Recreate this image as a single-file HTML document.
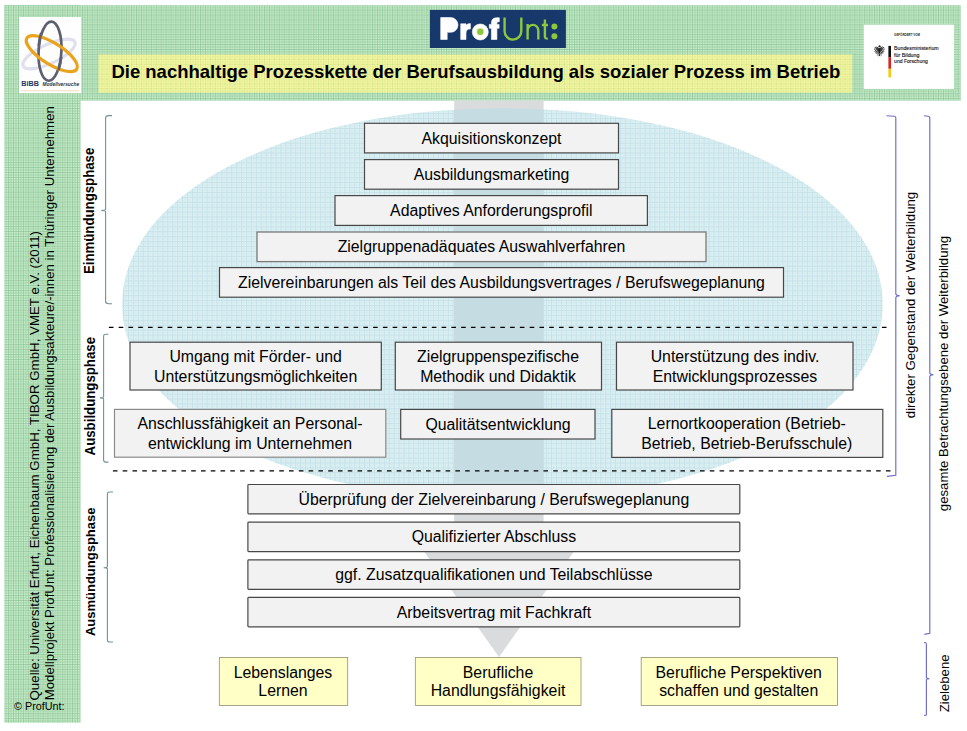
<!DOCTYPE html>
<html><head><meta charset="utf-8"><title>ProfUnt Prozesskette</title>
<style>
html,body{margin:0;padding:0;background:#fff;}
body{width:967px;height:731px;overflow:hidden;font-family:"Liberation Sans",sans-serif;}
svg{display:block;}
text{font-family:"Liberation Sans",sans-serif;fill:#000;}
.b{font-size:15.84px;text-anchor:middle;}
.ph{font-size:13.25px;font-weight:bold;text-anchor:middle;}
.rt{font-size:13.2px;text-anchor:middle;}
.box{fill:#f2f2f2;stroke:#484848;stroke-width:1.2;}
.boxl{fill:#f2f2f2;stroke:#8a8a8a;stroke-width:1.2;}
.boxm{fill:#f2f2f2;stroke:#7a7a7a;stroke-width:1.3;}
.ybox{fill:#ffffc6;stroke:#8f8f70;stroke-width:0.8;}
.lb{fill:none;stroke:#6f9296;stroke-width:1.1;}
.rb{fill:none;stroke:#6c6cc4;stroke-width:1.15;}
</style></head><body>
<svg width="967" height="731" viewBox="0 0 967 731">
<defs>
<pattern id="gg" x="3.2" y="4.7" width="4.92" height="4.92" patternUnits="userSpaceOnUse">
<rect width="4.92" height="4.92" fill="#caf2ce"/>
<rect x="2.46" width="0.95" height="4.92" fill="#a6d6ad"/>
<rect y="2.46" width="4.92" height="0.95" fill="#a6d6ad"/>
<rect width="1.0" height="4.92" fill="#9fcfa7"/>
<rect width="4.92" height="1.0" fill="#9fcfa7"/>
<rect width="1.0" height="1.0" fill="#90c299"/>
<rect x="2.46" y="2.46" width="0.95" height="0.95" fill="#96c79e"/>
<rect x="2.46" width="0.95" height="1.0" fill="#96c79e"/>
<rect y="2.46" width="1.0" height="0.95" fill="#96c79e"/>
</pattern>
<pattern id="yg" x="3.2" y="4.7" width="4.92" height="4.92" patternUnits="userSpaceOnUse">
<rect width="4.92" height="4.92" fill="#fcfca5"/>
<rect x="2.46" width="0.95" height="4.92" fill="#e4ee97"/>
<rect y="2.46" width="4.92" height="0.95" fill="#e4ee97"/>
<rect width="1.0" height="4.92" fill="#dde991"/>
<rect width="4.92" height="1.0" fill="#dde991"/>
<rect width="1.0" height="1.0" fill="#d0e088"/>
<rect x="2.46" y="2.46" width="0.95" height="0.95" fill="#d6e48c"/>
</pattern>
<pattern id="bg" x="0" y="0" width="4.92" height="4.92" patternUnits="userSpaceOnUse">
<rect width="4.92" height="4.92" fill="#e0f4f6"/>
<rect x="2.46" width="0.85" height="4.92" fill="#d1e9ee"/>
<rect y="2.46" width="4.92" height="0.85" fill="#d1e9ee"/>
<rect width="1.0" height="4.92" fill="#c6e1e8"/>
<rect width="4.92" height="1.0" fill="#c6e1e8"/>
</pattern>
<clipPath id="ec"><path d="M882.6 304.1L882.5 309.6L882.1 315.0L881.5 320.2L880.6 325.5L879.4 330.7L878.0 335.9L876.4 341.0L874.5 346.1L872.3 351.1L869.9 356.1L867.2 361.1L864.3 366.0L861.2 370.9L857.8 375.7L854.2 380.5L850.3 385.2L846.3 389.8L841.9 394.4L837.4 398.9L832.6 403.3L827.6 407.7L822.4 412.0L816.9 416.2L811.3 420.4L805.4 424.5L799.3 428.4L793.1 432.3L786.6 436.2L779.9 439.9L773.1 443.5L766.0 447.0L758.8 450.5L751.4 453.8L743.9 457.0L736.1 460.1L728.2 463.2L720.2 466.1L712.0 468.9L703.6 471.6L695.1 474.1L686.5 476.6L677.7 479.0L668.8 481.2L659.8 483.3L650.7 485.3L641.4 487.1L632.1 488.9L622.6 490.5L613.1 492.0L603.4 493.4L593.7 494.6L583.9 495.7L574.0 496.7L564.1 497.5L554.0 498.3L543.9 498.8L533.8 499.3L523.5 499.6L513.1 499.8L502.4 499.9L491.7 499.8L481.3 499.6L471.0 499.3L460.9 498.8L450.8 498.3L440.7 497.5L430.8 496.7L420.9 495.7L411.1 494.6L401.4 493.4L391.7 492.0L382.2 490.5L372.7 488.9L363.4 487.1L354.1 485.3L345.0 483.3L336.0 481.2L327.1 479.0L318.3 476.6L309.7 474.1L301.2 471.6L292.8 468.9L284.6 466.1L276.6 463.2L268.7 460.1L260.9 457.0L253.4 453.8L246.0 450.5L238.8 447.0L231.7 443.5L224.9 439.9L218.2 436.2L211.7 432.3L205.5 428.4L199.4 424.5L193.5 420.4L187.9 416.2L182.4 412.0L177.2 407.7L172.2 403.3L167.4 398.9L162.9 394.4L158.5 389.8L154.5 385.2L150.6 380.5L147.0 375.7L143.6 370.9L140.5 366.0L137.6 361.1L134.9 356.1L132.5 351.1L130.3 346.1L128.4 341.0L126.8 335.9L125.4 330.7L124.2 325.5L123.3 320.2L122.7 315.0L122.3 309.6L122.2 304.1L122.3 298.6L122.7 293.2L123.3 288.0L124.2 282.7L125.4 277.5L126.8 272.3L128.4 267.2L130.3 262.1L132.5 257.1L134.9 252.1L137.6 247.1L140.5 242.2L143.6 237.3L147.0 232.5L150.6 227.7L154.5 223.0L158.5 218.4L162.9 213.8L167.4 209.3L172.2 204.9L177.2 200.5L182.4 196.2L187.9 192.0L193.5 187.8L199.4 183.7L205.5 179.8L211.7 175.9L218.2 172.0L224.9 168.3L231.7 164.7L238.8 161.2L246.0 157.7L253.4 154.4L260.9 151.2L268.7 148.1L276.6 145.0L284.6 142.1L292.8 139.3L301.2 136.6L309.7 134.1L318.3 131.6L327.1 129.2L336.0 127.0L345.0 124.9L354.1 122.9L363.4 121.1L372.7 119.3L382.2 117.7L391.7 116.2L401.4 114.8L411.1 113.6L420.9 112.5L430.8 111.5L440.7 110.7L450.8 109.9L460.9 109.4L471.0 108.9L481.3 108.6L491.7 108.4L502.4 108.3L513.1 108.4L523.5 108.6L533.8 108.9L543.9 109.4L554.0 109.9L564.1 110.7L574.0 111.5L583.9 112.5L593.7 113.6L603.4 114.8L613.1 116.2L622.6 117.7L632.1 119.3L641.4 121.1L650.7 122.9L659.8 124.9L668.8 127.0L677.7 129.2L686.5 131.6L695.1 134.1L703.6 136.6L712.0 139.3L720.2 142.1L728.2 145.0L736.1 148.1L743.9 151.2L751.4 154.4L758.8 157.7L766.0 161.2L773.1 164.7L779.9 168.3L786.6 172.0L793.1 175.9L799.3 179.8L805.4 183.7L811.3 187.8L816.9 192.0L822.4 196.2L827.6 200.5L832.6 204.9L837.4 209.3L841.9 213.8L846.3 218.4L850.3 223.0L854.2 227.7L857.8 232.5L861.2 237.3L864.3 242.2L867.2 247.1L869.9 252.1L872.3 257.1L874.5 262.1L876.4 267.2L878.0 272.3L879.4 277.5L880.6 282.7L881.5 288.0L882.1 293.2L882.5 298.6Z"/></clipPath>
</defs>
<rect width="967" height="731" fill="#fff"/>
<!-- green frame -->
<rect x="4.3" y="5.2" width="956.5" height="95.5" fill="url(#gg)"/>
<rect x="4.3" y="5.2" width="76.3" height="717.6" fill="url(#gg)"/>
<!-- ellipse -->
<path d="M882.6 304.1L882.5 309.6L882.1 315.0L881.5 320.2L880.6 325.5L879.4 330.7L878.0 335.9L876.4 341.0L874.5 346.1L872.3 351.1L869.9 356.1L867.2 361.1L864.3 366.0L861.2 370.9L857.8 375.7L854.2 380.5L850.3 385.2L846.3 389.8L841.9 394.4L837.4 398.9L832.6 403.3L827.6 407.7L822.4 412.0L816.9 416.2L811.3 420.4L805.4 424.5L799.3 428.4L793.1 432.3L786.6 436.2L779.9 439.9L773.1 443.5L766.0 447.0L758.8 450.5L751.4 453.8L743.9 457.0L736.1 460.1L728.2 463.2L720.2 466.1L712.0 468.9L703.6 471.6L695.1 474.1L686.5 476.6L677.7 479.0L668.8 481.2L659.8 483.3L650.7 485.3L641.4 487.1L632.1 488.9L622.6 490.5L613.1 492.0L603.4 493.4L593.7 494.6L583.9 495.7L574.0 496.7L564.1 497.5L554.0 498.3L543.9 498.8L533.8 499.3L523.5 499.6L513.1 499.8L502.4 499.9L491.7 499.8L481.3 499.6L471.0 499.3L460.9 498.8L450.8 498.3L440.7 497.5L430.8 496.7L420.9 495.7L411.1 494.6L401.4 493.4L391.7 492.0L382.2 490.5L372.7 488.9L363.4 487.1L354.1 485.3L345.0 483.3L336.0 481.2L327.1 479.0L318.3 476.6L309.7 474.1L301.2 471.6L292.8 468.9L284.6 466.1L276.6 463.2L268.7 460.1L260.9 457.0L253.4 453.8L246.0 450.5L238.8 447.0L231.7 443.5L224.9 439.9L218.2 436.2L211.7 432.3L205.5 428.4L199.4 424.5L193.5 420.4L187.9 416.2L182.4 412.0L177.2 407.7L172.2 403.3L167.4 398.9L162.9 394.4L158.5 389.8L154.5 385.2L150.6 380.5L147.0 375.7L143.6 370.9L140.5 366.0L137.6 361.1L134.9 356.1L132.5 351.1L130.3 346.1L128.4 341.0L126.8 335.9L125.4 330.7L124.2 325.5L123.3 320.2L122.7 315.0L122.3 309.6L122.2 304.1L122.3 298.6L122.7 293.2L123.3 288.0L124.2 282.7L125.4 277.5L126.8 272.3L128.4 267.2L130.3 262.1L132.5 257.1L134.9 252.1L137.6 247.1L140.5 242.2L143.6 237.3L147.0 232.5L150.6 227.7L154.5 223.0L158.5 218.4L162.9 213.8L167.4 209.3L172.2 204.9L177.2 200.5L182.4 196.2L187.9 192.0L193.5 187.8L199.4 183.7L205.5 179.8L211.7 175.9L218.2 172.0L224.9 168.3L231.7 164.7L238.8 161.2L246.0 157.7L253.4 154.4L260.9 151.2L268.7 148.1L276.6 145.0L284.6 142.1L292.8 139.3L301.2 136.6L309.7 134.1L318.3 131.6L327.1 129.2L336.0 127.0L345.0 124.9L354.1 122.9L363.4 121.1L372.7 119.3L382.2 117.7L391.7 116.2L401.4 114.8L411.1 113.6L420.9 112.5L430.8 111.5L440.7 110.7L450.8 109.9L460.9 109.4L471.0 108.9L481.3 108.6L491.7 108.4L502.4 108.3L513.1 108.4L523.5 108.6L533.8 108.9L543.9 109.4L554.0 109.9L564.1 110.7L574.0 111.5L583.9 112.5L593.7 113.6L603.4 114.8L613.1 116.2L622.6 117.7L632.1 119.3L641.4 121.1L650.7 122.9L659.8 124.9L668.8 127.0L677.7 129.2L686.5 131.6L695.1 134.1L703.6 136.6L712.0 139.3L720.2 142.1L728.2 145.0L736.1 148.1L743.9 151.2L751.4 154.4L758.8 157.7L766.0 161.2L773.1 164.7L779.9 168.3L786.6 172.0L793.1 175.9L799.3 179.8L805.4 183.7L811.3 187.8L816.9 192.0L822.4 196.2L827.6 200.5L832.6 204.9L837.4 209.3L841.9 213.8L846.3 218.4L850.3 223.0L854.2 227.7L857.8 232.5L861.2 237.3L864.3 242.2L867.2 247.1L869.9 252.1L872.3 257.1L874.5 262.1L876.4 267.2L878.0 272.3L879.4 277.5L880.6 282.7L881.5 288.0L882.1 293.2L882.5 298.6Z" fill="url(#bg)"/>
<!-- arrow -->
<g id="arrow">
<path d="M454.2 100.4H543.6V550H575L499 657L423 550H454.2Z" fill="#dadbdc"/>
<path d="M454.2 100.4H543.6V550H575L499 657L423 550H454.2Z" fill="#c5dce2" clip-path="url(#ec)"/>
</g>

<!-- BIBB logo -->
<g id="bibb">
<rect x="19" y="17" width="62.2" height="76.2" fill="#fefefe"/>
<ellipse cx="49" cy="54" rx="28.5" ry="9.5" transform="rotate(-25 49 54)" fill="none" stroke="#e0dfee" stroke-width="3.2"/>
<ellipse cx="50" cy="51.2" rx="11.4" ry="29.6" transform="rotate(3 50 51.2)" fill="none" stroke="#5d6070" stroke-width="2.7"/>
<ellipse cx="51.8" cy="53.6" rx="29.4" ry="10.6" transform="rotate(32 51.8 53.6)" fill="none" stroke="#e9a31d" stroke-width="3.2"/>
<path d="M38.7 46 A11.4 29.6 3 0 1 41.2 33" fill="none" stroke="#5d6070" stroke-width="2.7"/><path d="M61.2 57 A11.4 29.6 3 0 1 58.5 70" fill="none" stroke="#5d6070" stroke-width="2.7"/>
<text x="21.3" y="85.8" style="font-size:6.4px;font-weight:bold;fill:#1f3565;" textLength="17.6" lengthAdjust="spacingAndGlyphs">BiBB</text>
<text x="42.6" y="85.6" style="font-size:4.9px;font-weight:bold;font-style:italic;fill:#333;" textLength="36.5" lengthAdjust="spacingAndGlyphs">Modellversuche</text>
<rect x="21" y="90" width="58" height="1.2" fill="#f3dcc0" opacity="0.8"/>
</g>
<!-- ProfUnt logo -->
<g id="pu">
<rect x="429.9" y="9.9" width="136" height="38.1" fill="#17386b"/>
<g fill="#fff" stroke="#fff" stroke-width="0.6" stroke-linejoin="round">
<path d="M440.7 17.5H450.6A7.4 7.4 0 0 1 450.6 32.3H447.2V39.5H440.7Z"/>
<path d="M460.7 23.8H466V25.2Q467.8 23.4 470.4 23.6V29Q466 28.6 466 33.2V39.5H460.7Z"/>
<circle cx="480.3" cy="32" r="8"/>
<path d="M491.4 39.5V28.3H489.3V24.4H491.4V23Q491.4 17.7 497 17.7H499.3V21.8H498.2Q496.9 21.8 496.9 23.2V24.4H499.1V28.3H496.9V39.5Z"/>
</g>
<circle cx="480.3" cy="31.8" r="4.1" fill="#f1f6cf"/>
<circle cx="480.3" cy="31.8" r="3.2" fill="#8dc63f"/>
<g fill="none" stroke="#8dc63f" stroke-width="2.4" stroke-linecap="butt">
<path d="M504.6 17.4V31.3A8.35 8.35 0 0 0 521.3 31.3V17.4"/>
<path d="M527.6 24V39.6M527.6 30.5A5.35 5.6 0 0 1 538.3 30.5V39.6"/>
<path d="M544.9 19.6V36.4Q544.9 38.8 547.8 38.6M541.9 25H548"/>
</g>
<circle cx="554.4" cy="26.6" r="3" fill="#8dc63f"/>
<circle cx="554.4" cy="36.3" r="3" fill="#8dc63f"/>
</g>
<!-- BMBF logo -->
<g id="bmbf">
<rect x="863.9" y="24.7" width="90" height="64.2" fill="#fff"/>
<text x="894.1" y="35.7" style="font-size:4.4px;font-weight:bold;fill:#222;" textLength="25.9" lengthAdjust="spacingAndGlyphs">GEFÖRDERT VOM</text>
<g transform="translate(874 44.8)" fill="#1c1c1c" stroke="#1c1c1c" stroke-linecap="round">
<ellipse cx="5.4" cy="6" rx="1.25" ry="3" stroke="none"/>
<circle cx="5.5" cy="1.5" r="1.05" stroke="none"/>
<path d="M6.2 1.2L7.4 1.7L6.3 2.1Z" stroke="none"/>
<g fill="none" stroke-width="0.85">
<path d="M4.4 3Q1.6 1 0.5 3.1M4.4 3.7Q1.3 2.6 0.4 5M4.4 4.4Q1.6 4 0.9 6.6M4.4 5.1Q2.3 5.2 1.7 8M4.5 5.8Q3.1 6.4 2.8 8.8"/>
<path d="M6.4 3Q9.2 1 10.3 3.1M6.4 3.7Q9.5 2.6 10.4 5M6.4 4.4Q9.2 4 9.9 6.6M6.4 5.1Q8.5 5.2 9.1 8M6.3 5.8Q7.7 6.4 8 8.8"/>
<path d="M4.7 8.2L3.5 10.3M6.1 8.2L7.3 10.3" stroke-width="0.7"/>
</g>
<path d="M5.4 8.3L4.3 11.6L5.4 11L6.5 11.6Z" stroke="none"/>
</g>
<rect x="888.4" y="45.9" width="2.6" height="11.3" fill="#111"/>
<rect x="888.4" y="57.2" width="2.6" height="11.6" fill="#d8231f"/>
<rect x="888.4" y="68.8" width="2.6" height="8.6" fill="#f6c90f"/>
<text x="894.1" y="50.3" style="font-size:5.3px;fill:#111;stroke:#111;stroke-width:0.12;" textLength="44.6" lengthAdjust="spacingAndGlyphs">Bundesministerium</text>
<text x="894.1" y="56.7" style="font-size:5.3px;fill:#111;stroke:#111;stroke-width:0.12;">für Bildung</text>
<text x="894.1" y="62.9" style="font-size:5.3px;fill:#111;stroke:#111;stroke-width:0.12;" textLength="33.8" lengthAdjust="spacingAndGlyphs">und Forschung</text>
</g>
<!-- title -->
<rect x="98.5" y="54.4" width="753.8" height="38.3" fill="url(#yg)"/>
<text x="111.4" y="77.8" style="font-size:18.5px;font-weight:bold;">Die nachhaltige Prozesskette der Berufsausbildung als sozialer Prozess im Betrieb</text>

<!-- phase 1 boxes -->
<g id="p1">
<rect class="box" x="364.5" y="123.3" width="254" height="29.6"/>
<text class="b" x="491.5" y="143.6">Akquisitionskonzept</text>
<rect class="box" x="364.5" y="159.6" width="254" height="29.6"/>
<text class="b" x="491.5" y="179.9">Ausbildungsmarketing</text>
<rect class="box" x="335" y="195.6" width="312.4" height="29.8"/>
<text class="b" x="491.3" y="216">Adaptives Anforderungsprofil</text>
<rect class="boxm" x="257" y="232" width="449" height="29.6"/>
<text class="b" x="481.5" y="252.3">Zielgruppenadäquates Auswahlverfahren</text>
<rect class="box" x="219.5" y="267.6" width="564" height="29.6"/>
<text class="b" x="501.5" y="287.9">Zielvereinbarungen als Teil des Ausbildungsvertrages / Berufswegeplanung</text>
</g>
<!-- dashed lines -->
<path d="M108.9 327.4H886.7" stroke="#000" stroke-width="1.1" stroke-dasharray="4.6 5.185" fill="none"/>
<path d="M112.9 470.9H894.6" stroke="#000" stroke-width="1.1" stroke-dasharray="4.6 5.185" fill="none"/>
<!-- phase 2 boxes -->
<g id="p2">
<rect class="box" x="130" y="342.2" width="251.3" height="47.8"/>
<text class="b" x="255.6" y="362.3">Umgang mit Förder- und</text>
<text class="b" x="255.6" y="382.3">Unterstützungsmöglichkeiten</text>
<rect class="box" x="395.3" y="342.2" width="206.2" height="47.8"/>
<text class="b" x="498" y="362.3">Zielgruppenspezifische</text>
<text class="b" x="498" y="382.3">Methodik und Didaktik</text>
<rect class="box" x="616.5" y="342.2" width="236.5" height="47.8"/>
<text class="b" x="735" y="362.3">Unterstützung des indiv.</text>
<text class="b" x="735" y="382.3">Entwicklungsprozesses</text>
<rect class="boxl" x="114.5" y="409.4" width="271.3" height="47.8"/>
<text class="b" x="250" y="429.3">Anschlussfähigkeit an Personal-</text>
<text class="b" x="250" y="449.3">entwicklung im Unternehmen</text>
<rect class="box" x="400.7" y="409.4" width="194.3" height="29.6"/>
<text class="b" x="498" y="429.7">Qualitätsentwicklung</text>
<rect class="box" x="611.8" y="409.4" width="271" height="48"/>
<text class="b" x="746.8" y="429.3">Lernortkooperation (Betrieb-</text>
<text class="b" x="746.8" y="449.3">Betrieb, Betrieb-Berufsschule)</text>
</g>
<!-- phase 3 boxes -->
<g id="p3">
<rect class="box" rx="0.8" x="247.9" y="484.5" width="491.9" height="29.4"/>
<text class="b" x="493.9" y="504.7">Überprüfung der Zielvereinbarung / Berufswegeplanung</text>
<rect class="box" rx="0.8" x="247.9" y="522.2" width="491.9" height="29.4"/>
<text class="b" x="493.9" y="542.3">Qualifizierter Abschluss</text>
<rect class="box" rx="0.8" x="247.9" y="559.9" width="491.9" height="29.4"/>
<text class="b" x="493.9" y="580.2">ggf. Zusatzqualifikationen und Teilabschlüsse</text>
<rect class="box" rx="0.8" x="247.9" y="597.4" width="491.9" height="29.4"/>
<text class="b" x="493.9" y="617.5">Arbeitsvertrag mit Fachkraft</text>
</g>
<!-- yellow boxes -->
<g id="yb">
<rect class="ybox" x="219.3" y="657.4" width="128.4" height="48"/>
<text class="b" x="283" y="677.5">Lebenslanges</text>
<text class="b" x="283" y="696.3">Lernen</text>
<rect class="ybox" x="415.3" y="657.4" width="165.7" height="48"/>
<text class="b" x="498" y="677.5">Berufliche</text>
<text class="b" x="498" y="696.3">Handlungsfähigkeit</text>
<rect class="ybox" x="641.2" y="657.4" width="196.2" height="48"/>
<text class="b" x="738.7" y="677.5">Berufliche Perspektiven</text>
<text class="b" x="738.7" y="696.3">schaffen und gestalten</text>
</g>
<!-- left braces -->
<g id="lbr">
<path class="lb" d="M112 115.6H108.4Q105.6 115.6 105.6 118.4V209.3Q105.6 210.3 101.2 210.5Q105.6 210.7 105.6 211.7V301Q105.6 303.7 108.4 303.7H112"/>
<path class="lb" d="M108.5 334.3H105.6Q103.6 334.3 103.6 336.3V396.7Q103.6 397.7 100 397.9Q103.6 398.1 103.6 399.1V460.1Q103.6 462.1 105.6 462.1H108.5"/>
<path class="lb" d="M113 492H109.4Q107.4 492 107.4 494V566.5Q107.4 567.5 103.6 567.7Q107.4 567.9 107.4 568.9V640Q107.4 642 109.4 642H113"/>
<text class="ph" transform="translate(93.6 210.9) rotate(-90) scale(1 1.04)">Einmündungsphase</text>
<text class="ph" transform="translate(95 396.2) rotate(-90) scale(1 1.04)">Ausbildungsphase</text>
<text class="ph" style="font-size:13px" transform="translate(95.2 571.8) rotate(-90) scale(1 1.05)">Ausmündungsphase</text>
</g>
<!-- right braces -->
<g id="rbr">
<path class="rb" d="M886.5 115.7L894.3 116.2Q895.8 116.4 895.8 118V293.8Q895.8 295.4 899.6 295.8Q895.8 296.2 895.8 297.8V475.2L887 476.4"/>
<path class="rb" d="M924 115.7L928.3 116.2Q929.8 116.4 929.8 118V372.7Q929.8 374.3 933.4 374.7Q929.8 375.1 929.8 376.7V633.2L924.4 634.4"/>
<path class="rb" d="M924 642.6L925.6 642.8Q926.4 643 926.4 644.2V677.6Q926.4 678.5 929.4 678.7Q926.4 678.9 926.4 679.8V714.2Q926.4 715.2 925.6 715.3L924 715.5"/>
<text class="rt" transform="translate(915 305) rotate(-90)">direkter Gegenstand der Weiterbildung</text>
<text class="rt" transform="translate(948.2 373.5) rotate(-90)">gesamte Betrachtungsebene der Weiterbildung</text>
<text class="rt" transform="translate(948.8 683.4) rotate(-90)">Zielebene</text>
</g>
<!-- left vertical source text -->
<g id="src">
<text transform="translate(38.8 700.5) rotate(-90)" style="font-size:13.3px;">Quelle: Universität Erfurt, Eichenbaum GmbH, TIBOR GmbH, VMET e.V. (2011)</text>
<text transform="translate(53.5 700.3) rotate(-90)" style="font-size:13.24px;">Modellprojekt ProfUnt: Professionalisierung der Ausbildungsakteure/-innen in Thüringer Unternehmen</text>
<text x="14" y="709.7" style="font-size:10.8px;">© ProfUnt:</text>
</g>
</svg>
</body></html>
